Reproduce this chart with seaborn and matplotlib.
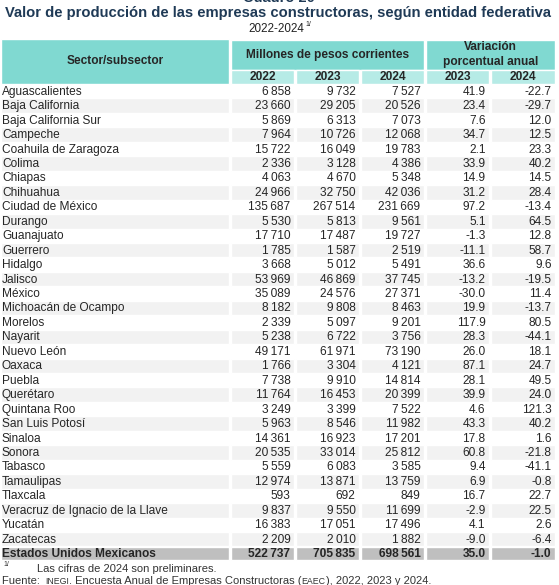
import matplotlib
matplotlib.use('Agg')
import matplotlib.pyplot as plt
import seaborn as sns

sns.set_theme(style='white')
plt.rcParams['font.family'] = ['Liberation Sans', 'DejaVu Sans']

states = ['Aguascalientes', 'Baja California', 'Baja California Sur', 'Campeche',
          'Coahuila de Zaragoza', 'Colima', 'Chiapas', 'Chihuahua', 'Ciudad de México',
          'Durango', 'Guanajuato', 'Guerrero', 'Hidalgo', 'Jalisco', 'México',
          'Michoacán de Ocampo', 'Morelos', 'Nayarit', 'Nuevo León', 'Oaxaca', 'Puebla',
          'Querétaro', 'Quintana Roo', 'San Luis Potosí', 'Sinaloa', 'Sonora', 'Tabasco',
          'Tamaulipas', 'Tlaxcala', 'Veracruz de Ignacio de la Llave', 'Yucatán', 'Zacatecas']
prod_2022 = [6858, 23660, 5869, 7964, 15722, 2336, 4063, 24966, 135687, 5530, 17710,
             1785, 3668, 53969, 35089, 8182, 2339, 5238, 49171, 1766, 7738, 11764, 3249,
             5963, 14361, 20535, 5559, 12974, 593, 9837, 16383, 2209]
prod_2023 = [9732, 29205, 6313, 10726, 16049, 3128, 4670, 32750, 267514, 5813, 17487,
             1587, 5012, 46869, 24576, 9808, 5097, 6722, 61971, 3304, 9910, 16453, 3399,
             8546, 16923, 33014, 6083, 13871, 692, 9550, 17051, 2010]
prod_2024 = [7527, 20526, 7073, 12068, 19783, 4386, 5348, 42036, 231669, 9561, 19727,
             2519, 5491, 37745, 27371, 8463, 9201, 3756, 73190, 4121, 14814, 20399, 7522,
             11982, 17201, 25812, 3585, 13759, 849, 11699, 17496, 1882]
var_2023 = [41.9, 23.4, 7.6, 34.7, 2.1, 33.9, 14.9, 31.2, 97.2, 5.1, -1.3, -11.1, 36.6,
            -13.2, -30.0, 19.9, 117.9, 28.3, 26.0, 87.1, 28.1, 39.9, 4.6, 43.3, 17.8,
            60.8, 9.4, 6.9, 16.7, -2.9, 4.1, -9.0]
var_2024 = [-22.7, -29.7, 12.0, 12.5, 23.3, 40.2, 14.5, 28.4, -13.4, 64.5, 12.8, 58.7,
            9.6, -19.5, 11.4, -13.7, 80.5, -44.1, 18.1, 24.7, 49.5, 24.0, 121.3, 40.2,
            1.6, -21.8, -41.1, -0.8, 22.7, 22.5, 2.6, -6.4]
total_label = 'Estados Unidos Mexicanos'
total_prod = [522737, 705835, 698561]
total_var = [35.0, -1.0]
years = ['2022', '2023', '2024']
var_years = ['2023', '2024']

DARK = '#80d9d1'
LIGHT = '#b6ebe6'
STRIPE = '#f2f2f2'
TOTAL = '#bfbfbf'
NAVY = '#1f3a56'

W, H = 559, 585
edges = [0, 230, 295, 360, 425, 490, 556]
gap = 1.5
head_top, head_mid, head_bot = 39, 70, 84
row_h = 14.45
fs = 8.6


def fmt_int(v):
    return f'{v:,}'.replace(',', '\u2009')


fig = plt.figure(figsize=(W / 100, H / 100), dpi=100)
ax = fig.add_axes([0, 0, 1, 1])
ax.set_xlim(0, W)
ax.set_ylim(H, 0)
ax.axis('off')

# titles (the table number is cut at the top edge, as in the source page)
ax.text(279, 2, 'Cuadro 20', ha='center', va='baseline', fontsize=10.5,
        fontweight='bold', color=NAVY)
ax.text(278, 13, 'Valor de producción de las empresas constructoras, según entidad federativa',
        ha='center', va='center', fontsize=10.6, fontweight='bold', color=NAVY)
ax.text(276, 29, '2022-2024', ha='center', va='center', fontsize=8.4, color='#222222')
ax.text(305, 25, '1/', ha='left', va='center', fontsize=5, color='#222222')

# header cells
lefts = edges[:-1]
widths = [edges[i + 1] - edges[i] for i in range(len(edges) - 1)]
ax.barh((head_top + head_bot) / 2, widths[0] - gap, height=head_bot - head_top,
        left=gap / 2, color=DARK, align='center')
ax.barh((head_top + head_mid) / 2, edges[4] - edges[1] - gap, height=head_mid - head_top - 1,
        left=edges[1] + gap / 2, color=DARK)
ax.barh((head_top + head_mid) / 2, edges[6] - edges[4] - gap, height=head_mid - head_top - 1,
        left=edges[4] + gap / 2, color=DARK)
for i in range(1, 6):
    ax.barh((head_mid + head_bot) / 2, widths[i] - gap, height=head_bot - head_mid,
            left=lefts[i] + gap / 2, color=LIGHT)

ax.text(edges[1] / 2, 61, 'Sector/subsector', ha='center', va='center',
        fontsize=fs, fontweight='bold')
ax.text((edges[1] + edges[4]) / 2, 55, 'Millones de pesos corrientes', ha='center',
        va='center', fontsize=fs, fontweight='bold')
ax.text((edges[4] + edges[6]) / 2, 47, 'Variación', ha='center', va='center',
        fontsize=fs, fontweight='bold')
ax.text((edges[4] + edges[6]) / 2, 62, 'porcentual anual', ha='center', va='center',
        fontsize=fs, fontweight='bold')
for i, y in enumerate(years + var_years):
    ax.text((edges[i + 1] + edges[i + 2]) / 2, (head_mid + head_bot) / 2 + 0.5, y,
            ha='center', va='center', fontsize=fs, fontweight='bold')

# body rows
rows = list(zip(states, prod_2022, prod_2023, prod_2024, var_2023, var_2024))
rows.append((total_label, *total_prod, *total_var))
for r, row in enumerate(rows):
    yc = head_bot + row_h * (r + 0.5)
    is_total = r == len(rows) - 1
    bg = TOTAL if is_total else (STRIPE if r % 2 == 1 else None)
    if bg is not None:
        for i in range(6):
            ax.barh(yc, widths[i] - gap, height=row_h - (0.8 if is_total else 0),
                    left=lefts[i] + gap / 2, color=bg)
    weight = 'bold' if is_total else 'normal'
    ax.text(2, yc + 0.5, row[0], ha='left', va='center', fontsize=fs, fontweight=weight)
    cells = [fmt_int(v) for v in row[1:4]] + [f'{v:.1f}' for v in row[4:6]]
    for i, txt in enumerate(cells):
        ax.text(edges[i + 2] - 4.5, yc + 0.5, txt, ha='right', va='center',
                fontsize=fs, fontweight=weight)

# footnotes
ax.text(3, 565, '1/', ha='left', va='center', fontsize=5, color='#333333')
ax.text(37, 569, 'Las cifras de 2024 son preliminares.', ha='left', va='center',
        fontsize=8, color='#333333')

renderer = fig.canvas.get_renderer()
parts = [('Fuente: ', 8), ('INEGI', 6.3), ('. Encuesta Anual de Empresas Constructoras (', 8),
         ('EAEC', 6.3), ('), 2022, 2023 y 2024.', 8)]
x = 2
for txt, size in parts:
    t = ax.text(x, 581, txt, ha='left', va='center', fontsize=size, color='#333333')
    bb = t.get_window_extent(renderer)
    x += bb.width * W / fig.bbox.width
    if txt.endswith(' '):
        x += 2.2

fig.savefig('out.png', dpi=100)
